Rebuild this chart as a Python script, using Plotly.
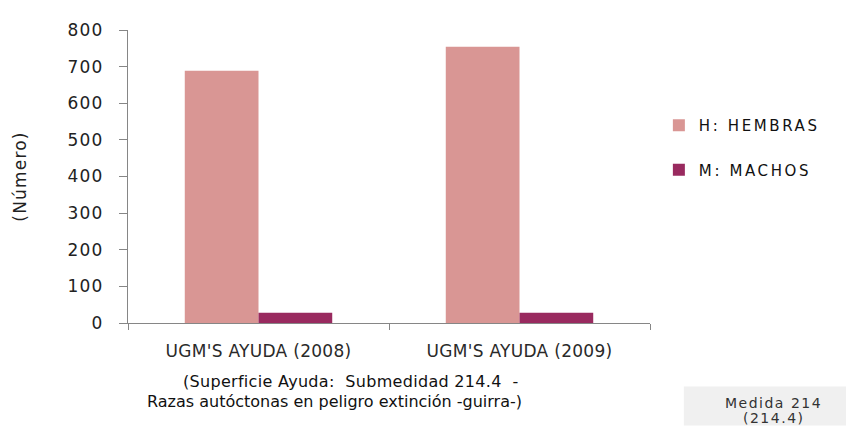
import plotly.graph_objects as go

categorias = ["UGM'S AYUDA (2008)", "UGM'S AYUDA (2009)"]
hembras = [689, 754]
machos = [28, 28]
y_ticks = [0, 100, 200, 300, 400, 500, 600, 700, 800]

FONT = "DejaVu Sans"


def spaced(t, px):
    return f'<span style="letter-spacing:{px}px">{t}</span>'


fig = go.Figure()
fig.add_trace(go.Bar(x=categorias, y=hembras, name=spaced("H: HEMBRAS", 2.6),
                     legendgroup="h",
                     marker=dict(color="#D99694", line=dict(width=0))))
fig.add_trace(go.Bar(x=categorias, y=machos, name=spaced("M: MACHOS", 2.6),
                     legendgroup="m",
                     marker=dict(color="#992A5F", line=dict(width=0))))

# page body has an 8px margin -> compensate
fig.update_layout(
    width=846, height=420,
    margin=dict(l=118, r=204, t=15, b=105),
    paper_bgcolor="white", plot_bgcolor="white",
    barmode="group", bargap=0.435, bargroupgap=0,
    font=dict(family=FONT, color="#222222"),
    showlegend=True,
    legend=dict(x=1.017, y=0.73, xanchor="left", yanchor="top",
                font=dict(family=FONT, size=15, color="#111111"),
                tracegroupgap=22, itemwidth=30, traceorder="grouped",
                bgcolor="rgba(0,0,0,0)"),
    xaxis=dict(showline=True, linecolor="#868686", linewidth=1,
               ticks="outside", ticklen=6, tickcolor="#868686",
               tickson="boundaries",
               tickvals=categorias,
               ticktext=[spaced(c, 0.3) for c in categorias],
               ticklabelstandoff=13,
               tickfont=dict(family=FONT, size=17, color="#2a2a2a"),
               showgrid=False, zeroline=False),
    yaxis=dict(range=[0, 800], tickvals=y_ticks,
               ticktext=[spaced(str(v), 1.2) for v in y_ticks],
               showline=True, linecolor="#868686", linewidth=1,
               ticks="outside", ticklen=8, tickcolor="#868686",
               ticklabelstandoff=12,
               tickfont=dict(family=FONT, size=17, color="#222222"),
               showgrid=False, zeroline=False,
               title=dict(text=spaced("(Número)", 1.2), standoff=36,
                          font=dict(family=FONT, size=17, color="#222222"))),
)

fig.add_annotation(
    xref="paper", yref="paper", x=(350 - 126) / 524, y=-(383 - 323) / 300,
    yanchor="middle", xanchor="center",
    text=spaced("(Superficie Ayuda:&nbsp;&nbsp;Submedidad 214.4&nbsp;&nbsp;-", 0.3),
    showarrow=False, font=dict(family=FONT, size=16, color="#111111"))
fig.add_annotation(
    xref="paper", yref="paper", x=(333 - 126) / 524, y=-(403 - 323) / 300,
    yanchor="middle", xanchor="center",
    text="Razas autóctonas en peligro extinción -guirra-)",
    showarrow=False, font=dict(family=FONT, size=16, color="#111111"))

fig.add_shape(type="rect", xref="paper", yref="paper",
              x0=(684 - 126) / 524, x1=(854 - 126) / 524,
              y0=-105 / 300, y1=-(388 - 323) / 300,
              fillcolor="#F0F0F0", line=dict(width=0), layer="below")
fig.add_annotation(
    xref="paper", yref="paper", x=(774 - 126) / 524, y=-(405 - 323) / 300,
    yanchor="middle", xanchor="center",
    text=spaced("Medida 214", 1.5), showarrow=False,
    font=dict(family=FONT, size=14, color="#333333"))
fig.add_annotation(
    xref="paper", yref="paper", x=(774 - 126) / 524, y=-(420 - 323) / 300,
    yanchor="middle", xanchor="center",
    text=spaced("(214.4)", 1.5), showarrow=False,
    font=dict(family=FONT, size=14, color="#333333"))

fig.write_html("out.html")
